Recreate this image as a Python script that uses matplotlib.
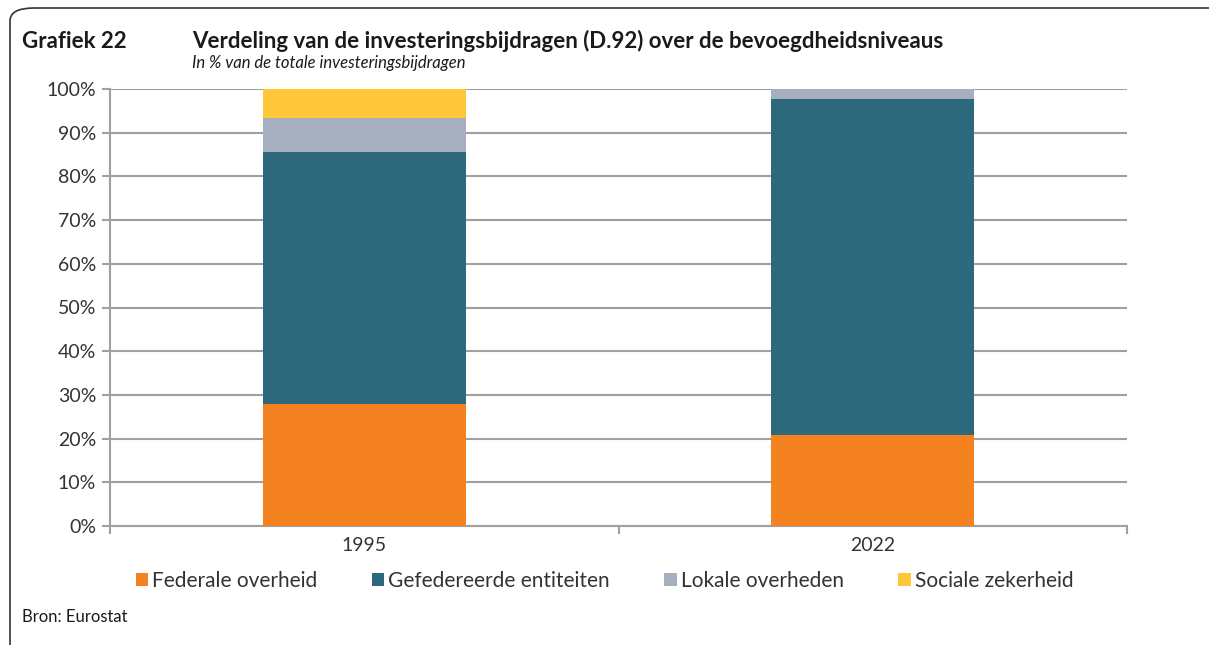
import matplotlib
matplotlib.use("Agg")
import matplotlib.pyplot as plt
from matplotlib.patches import FancyBboxPatch
import numpy as np

plt.rcParams['font.family'] = ['Lato', 'DejaVu Sans']

years = ["1995", "2022"]
series = ["Federale overheid", "Gefedereerde entiteiten", "Lokale overheden", "Sociale zekerheid"]
federale = [27.9, 20.8]
gefedereerde = [57.7, 76.9]
lokale = [7.8, 2.3]
sociale = [6.6, 0.0]
colors = ["#F58220", "#2E687D", "#A5AFBE", "#FFC63A"]

fig = plt.figure(figsize=(12.09, 6.45), dpi=100)
ax = fig.add_axes([110 / 1209, 1 - 526 / 645, 1017 / 1209, 437 / 645])

x = np.arange(len(years))
bottom = np.zeros(len(years))
for name, vals, col in zip(series, [federale, gefedereerde, lokale, sociale], colors):
    ax.bar(x, vals, 0.4, bottom=bottom, color=col, label=name, zorder=3)
    bottom += np.array(vals)

ax.set_xlim(-0.5, 1.5)
ax.set_ylim(0, 100)
ax.set_yticks(range(0, 101, 10))
ax.set_yticklabels([f"{v}%" for v in range(0, 101, 10)], fontsize=14, color="#333333")
ax.yaxis.grid(True, color="#A0A0A0", linewidth=1.5, zorder=0)
ax.set_xticks([-0.5, 0.5, 1.5])
ax.set_xticklabels([])
ax.set_xticks(x, minor=True)
ax.set_xticklabels(years, minor=True, fontsize=14, color="#333333")
ax.tick_params(axis="x", which="minor", length=0, pad=8)
ax.tick_params(axis="x", which="major", length=6, width=1.5, color="#A0A0A0", direction="out")
ax.tick_params(axis="y", length=6, width=1.5, color="#A0A0A0", pad=4)
for s in ["top", "right"]:
    ax.spines[s].set_visible(False)
ax.spines["left"].set_color("#A0A0A0")
ax.spines["left"].set_linewidth(1.5)
ax.spines["bottom"].set_color("#A0A0A0")
ax.spines["bottom"].set_linewidth(1.5)

fig.legend(loc="center", bbox_to_anchor=(0.5, 1 - 581 / 645), ncol=4, frameon=False,
           fontsize=15, handlelength=0.6, handleheight=0.6, handletextpad=0.2,
           columnspacing=2.6, labelcolor="#333333")

fig.text(22 / 1209, 1 - 41 / 645, "Grafiek 22", fontsize=16, fontweight="bold", va="center", color="#1a1a1a")
fig.text(192 / 1209, 1 - 41 / 645, "Verdeling van de investeringsbijdragen (D.92) over de bevoegdheidsniveaus",
         fontsize=16, fontweight="bold", va="center", color="#1a1a1a")
fig.text(192 / 1209, 1 - 63 / 645, "In % van de totale investeringsbijdragen",
         fontsize=12, style="italic", va="center", color="#1a1a1a")
fig.text(22 / 1209, 1 - 617 / 645, "Bron: Eurostat", fontsize=12, va="center", color="#1a1a1a")

frame = FancyBboxPatch((10 / 1209, -0.1), 1.2, 1 - 8 / 645 + 0.1, transform=fig.transFigure,
                       boxstyle="round,pad=0,rounding_size=0.02", fill=False,
                       edgecolor="#333333", linewidth=1.2, clip_on=False)
fig.patches.append(frame)

fig.savefig("out.png", dpi=100)
